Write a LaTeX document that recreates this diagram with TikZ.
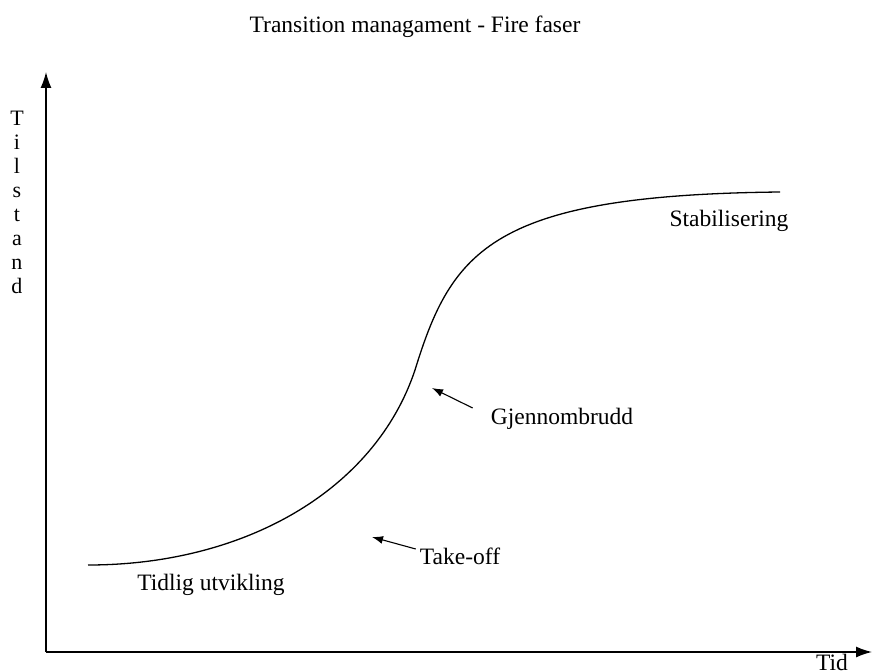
\documentclass[tikz,border=0pt]{standalone}
\usepackage{fontspec}
\setmainfont{Liberation Serif}
\usetikzlibrary{arrows.meta}

\tikzset{
  lbl/.style={font=\fontsize{23.5pt}{26pt}\selectfont, inner sep=0pt},
  axis/.style={line width=1.4pt, -{Latex[length=16pt,width=11pt]}},
  pointer/.style={line width=1.1pt, -{Latex[length=11pt,width=8pt]}}
}

\begin{document}
\begin{tikzpicture}[x=1pt,y=-1pt]
               \useasboundingbox (0,0) rectangle (872,671);
               % title
               \node [lbl] (title) at (415,27) {Transition managament - Fire faser};
               % axes
               \coordinate (origo) at (46,652);
               \coordinate (ytop) at (46,72);
               \coordinate (xend) at (872,652);
               \draw [axis] (origo) -- (ytop);
               \draw [axis] (origo) -- (xend);
               \node [lbl, anchor=base] (tid) at (832,670) {Tid};
               \node [lbl, align=center, font=\fontsize{22pt}{24pt}\selectfont] (tilstand) at (17,202) {T\\i\\l\\s\\t\\a\\n\\d};
               % s-curve
               \draw [line width=1.3pt] (88,565) .. controls (245,565) and (375,490) .. (415,370)
                                          .. controls (452,250) and (492,195) .. (780,192);
               % labels
               \node [lbl] (tidlig) at (211,585) {Tidlig utvikling};
               \node [lbl] (takeoff) at (460,556) {Take-off};
               \node [lbl] (gjennom) at (562,419) {Gjennombrudd};
               \node [lbl] (stabil) at (729,221) {Stabilisering};
               % pointers
               \coordinate (ptake) at (372,537);
               \coordinate (pgjen) at (432,388);
               \draw [pointer] (takeoff.west) ++(-4,-7) coordinate (stake) -- (ptake);
               \draw [pointer] (gjennom.west) ++(-18,-11) coordinate (sgjen) -- (pgjen);
\end{tikzpicture}
\end{document}
